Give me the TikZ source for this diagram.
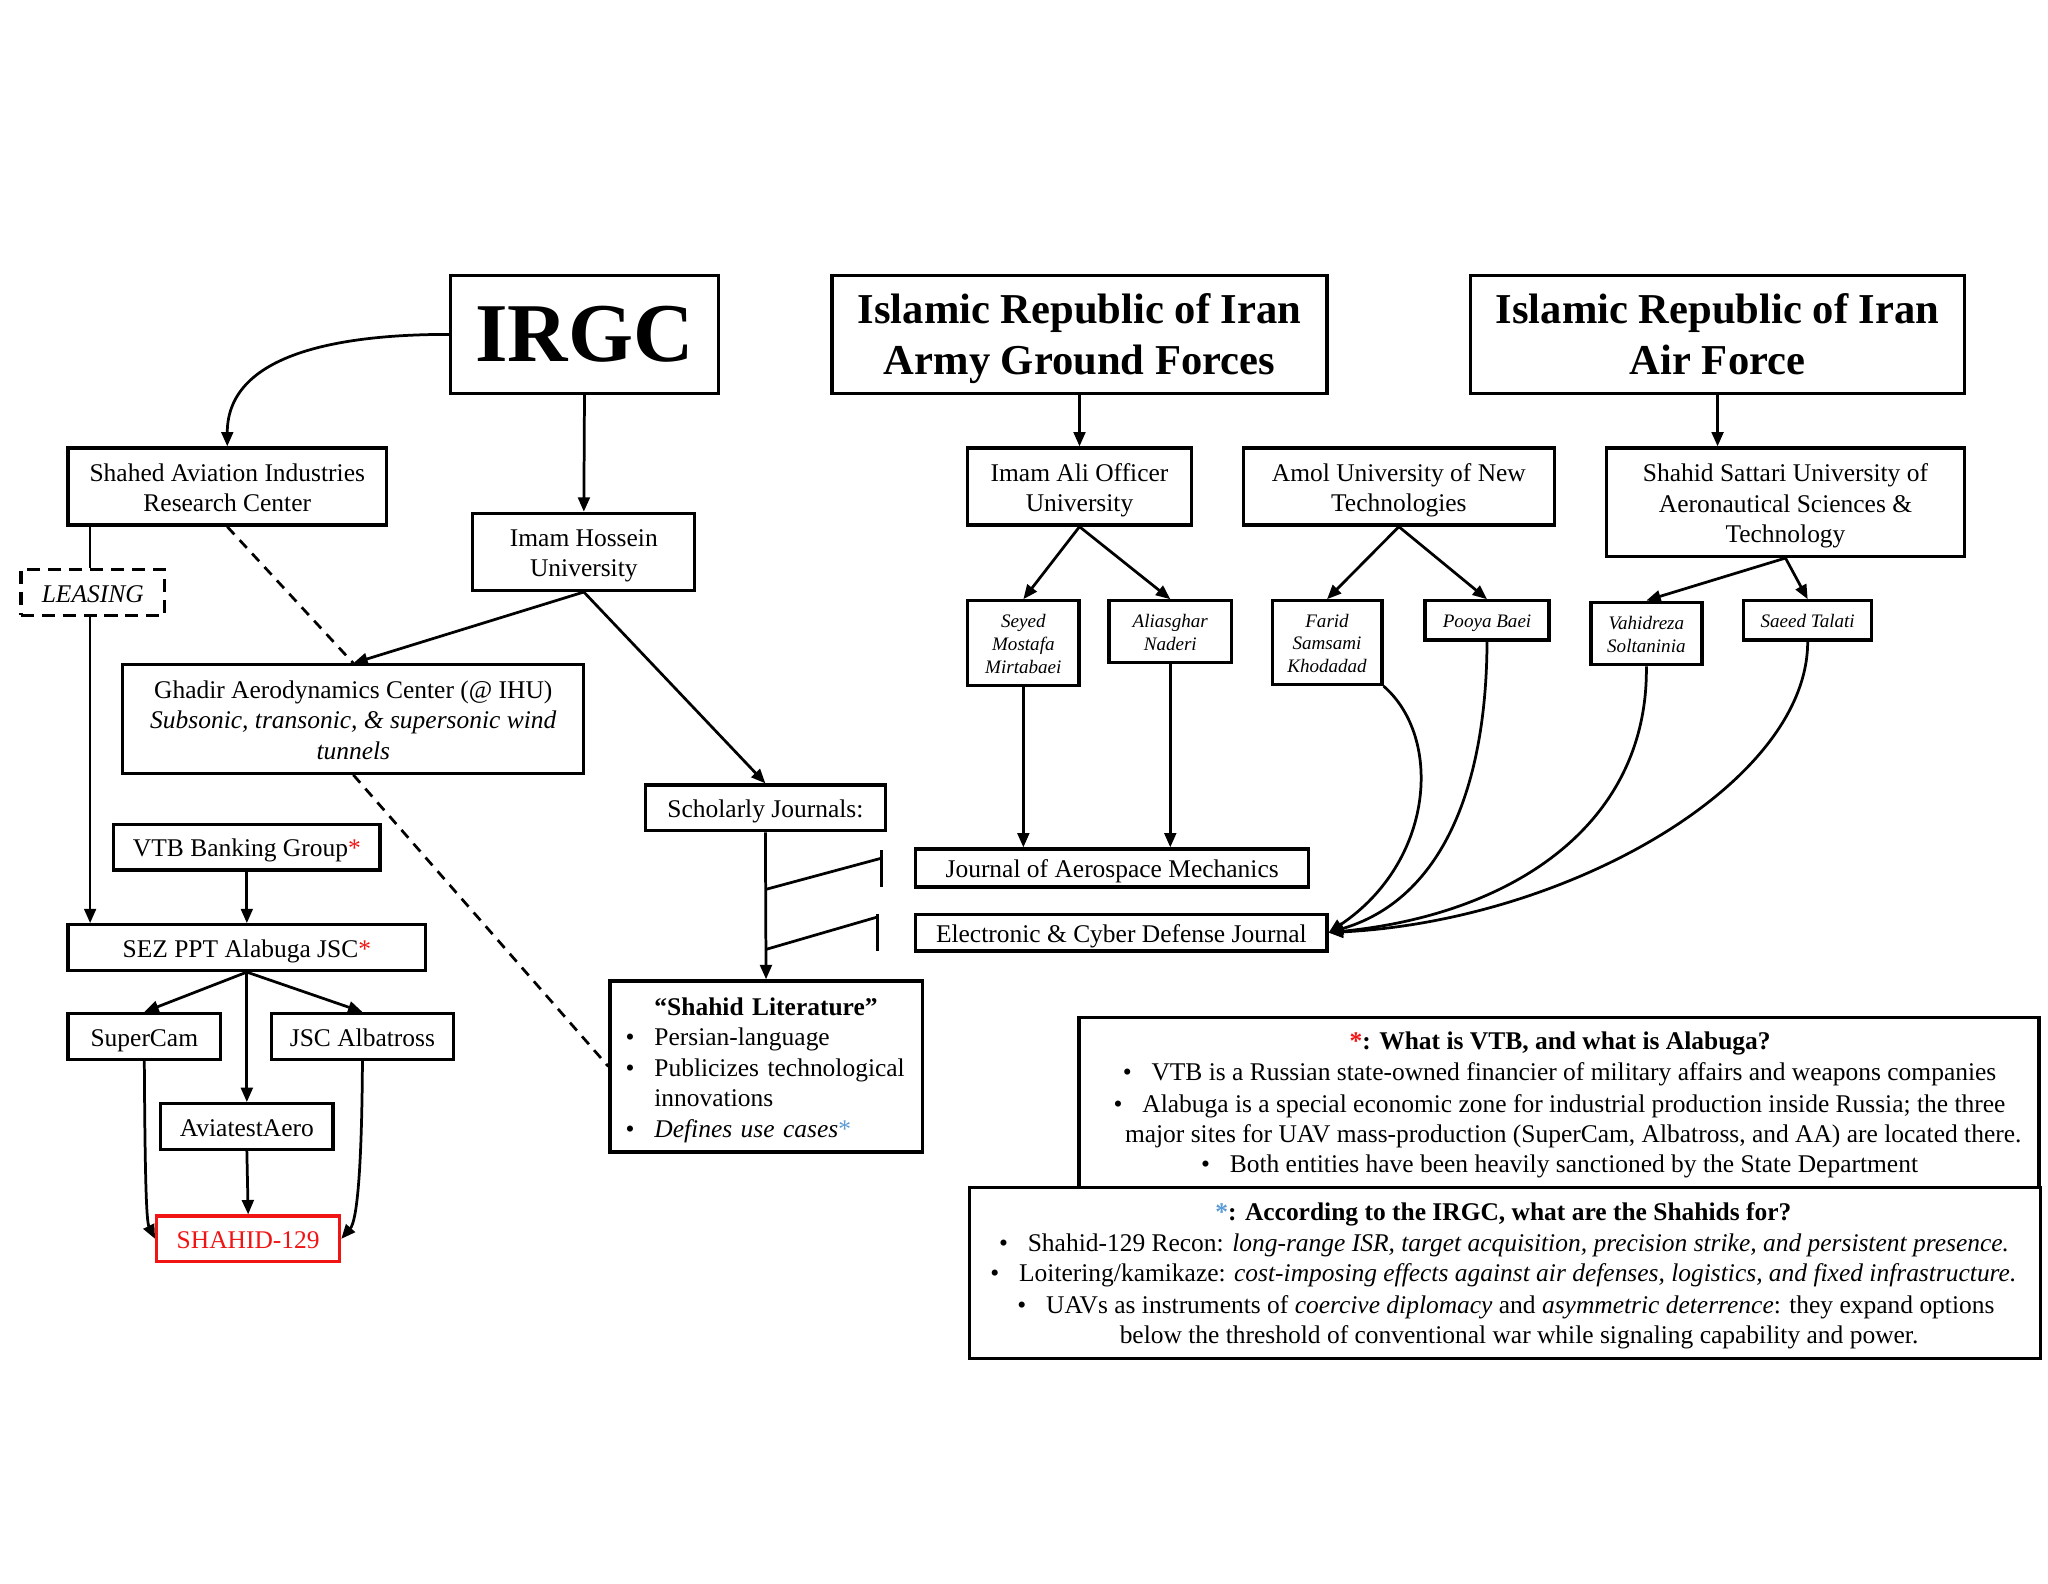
\documentclass[tikz,border=0pt]{standalone}
\usepackage{fontspec}
\setmainfont{Liberation Serif}
\usetikzlibrary{arrows.meta}
\definecolor{myred}{RGB}{240,20,20}
\definecolor{myblue}{RGB}{91,155,213}
\newcommand\mybox[7]{\node[#1, minimum width={(#4-#2)*0.5pt}, minimum height={(#5-#3)*0.5pt}] (#6) at ({(#2+#4)/2},{(#3+#5)/2}) {#7};}
\newcommand\mystrut{\vrule width0pt height1.0em depth0.23em\relax}
\newcommand\mytop{\vrule width0pt height1.0em\relax}
\newcommand\mytophead{\vrule width0pt height0.93em\relax}
\tikzset{
  basefont/.style={font=\fontsize{9.75pt}{11.7pt}\selectfont},
  plainbox/.style={draw, line width=1.25pt, inner sep=0pt, align=center, basefont},
  box/.style={plainbox, execute at begin node=\mystrut, execute at end node=\mystrut},
  smallbox/.style={box, font=\fontsize{7.3pt}{8.75pt}\selectfont\itshape},
  headbox/.style={box, font=\fontsize{16.3pt}{19.5pt}\selectfont\bfseries},
  txt/.style={basefont, inner sep=0pt, text height=8.5pt, text depth=2pt},
  ln/.style={line width=1.05pt},
  conn/.style={ln, -{Triangle[length=5.5pt,width=4.5pt]}},
  dashln/.style={ln, dash pattern=on 4pt off 3pt},
}
\begin{document}
\begin{tikzpicture}[x=0.5pt,y=-0.5pt]
\useasboundingbox (0,0) rectangle (1568,1212);
% left part
\mybox{plainbox, font=\fontsize{32pt}{38pt}\selectfont\bfseries}{345}{211}{550}{301}{irgc}{\raisebox{-3pt}{IRGC}}
\mybox{headbox}{637}{211}{1016}{301}{army}{\mytophead Islamic Republic of Iran\\Army Ground Forces}
\mybox{headbox}{1126}{211}{1504}{301}{airforce}{\mytophead Islamic Republic of Iran\\Air Force}
\mybox{box}{52}{343}{296}{402}{shahed}{\mytop Shahed Aviation Industries\\Research Center}
\mybox{box}{362}{393}{532}{452}{ih}{\mytop Imam Hossein\\University}
\mybox{box, dash pattern=on 5pt off 3pt, font=\fontsize{9.75pt}{11.7pt}\selectfont\itshape}{16}{436}{126}{471}{leasing}{LEASING}
\mybox{box}{94}{509}{447}{592}{ghadir}{\mytop Ghadir Aerodynamics Center (@ IHU)\\\textit{Subsonic, transonic, \& supersonic wind}\\\textit{tunnels}}
\mybox{box}{494}{601}{678}{636}{scholarly}{Scholarly Journals:}
\mybox{box}{87}{631}{291}{666}{vtb}{VTB Banking Group\textcolor{myred}{*}}
\mybox{box}{52}{708}{326}{743}{sez}{SEZ PPT Alabuga JSC\textcolor{myred}{*}}
\mybox{box}{52}{776}{169}{811}{supercam}{SuperCam}
\mybox{box}{208}{776}{347}{811}{albatross}{JSC Albatross}
\mybox{box}{123}{845}{255}{880}{aviatest}{AviatestAero}
\mybox{box, draw=myred, text=myred}{120}{931}{260}{966}{shahid}{SHAHID-129}
\mybox{box, align=left, text width=107.5pt}{467}{751}{706}{882}{lit}{\makebox[107.5pt][c]{\bfseries “Shahid Literature”}\\
\textbullet\hspace{7.6pt}Persian-language\\
\textbullet\hspace{7.6pt}Publicizes technological\\
\hspace*{11pt}innovations\\
\textbullet\hspace{7.6pt}\textit{Defines use cases}\textcolor{myblue}{*}}
% right part
\mybox{box}{741}{343}{912}{402}{imamali}{\mytop Imam Ali Officer\\University}
\mybox{box}{952}{343}{1190}{402}{amol}{\mytop Amol University of New\\Technologies}
\mybox{box}{1230}{343}{1504}{426}{sattari}{\mytop Shahid Sattari University of\\Aeronautical Sciences \&\\Technology}
\mybox{smallbox}{741}{460}{826}{525}{seyed}{\mytop Seyed\\Mostafa\\Mirtabaei}
\mybox{smallbox}{849}{460}{943}{507}{aliasghar}{\mytop Aliasghar\\Naderi}
\mybox{smallbox}{974}{460}{1058}{524}{farid}{\mytop Farid\\Samsami\\Khodadad}
\mybox{smallbox}{1091}{460}{1186}{490}{pooya}{Pooya Baei}
\mybox{smallbox}{1218}{461}{1303}{509}{vahid}{\mytop Vahidreza\\Soltaninia}
\mybox{smallbox}{1335}{460}{1433}{490}{saeed}{Saeed Talati}
\mybox{box}{701}{650}{1002}{679}{jam}{Journal of Aerospace Mechanics}
\mybox{box}{701}{700}{1016}{728}{ecdj}{Electronic \& Cyber Defense Journal}
% notes
\mybox{plainbox}{826}{779}{1561}{909}{vtbnote}{}
\mybox{plainbox}{742}{909}{1562}{1040}{shahidnote}{}
\node[txt, font=\fontsize{9.75pt}{11.7pt}\selectfont\bfseries] (vn0) at (1194.5,797) {\textcolor{myred}{*}: What is VTB, and what is Alabuga?};
\node[txt] (vn1) at (1194,821) {\textbullet\hspace{7.6pt}VTB is a Russian state-owned financier of military affairs and weapons companies};
\node[txt] (vn2) at (1194,845) {\textbullet\hspace{7.6pt}Alabuga is a special economic zone for industrial production inside Russia; the three};
\node[txt] (vn3) at (1204.5,868) {major sites for UAV mass-production (SuperCam, Albatross, and AA) are located there.};
\node[txt] (vn4) at (1194,891) {\textbullet\hspace{7.6pt}Both entities have been heavily sanctioned by the State Department};
\node[txt, font=\fontsize{9.75pt}{11.7pt}\selectfont\bfseries] (sn0) at (1151,928) {\textcolor{myblue}{*}: According to the IRGC, what are the Shahids for?};
\node[txt] (sn1) at (1151.5,952) {\textbullet\hspace{7.6pt}Shahid-129 Recon: \textit{long-range ISR, target acquisition, precision strike, and persistent presence.}};
\node[txt] (sn2) at (1151,975) {\textbullet\hspace{7.6pt}Loitering/kamikaze: \textit{cost-imposing effects against air defenses, logistics, and fixed infrastructure.}};
\node[txt] (sn3) at (1153,999) {\textbullet\hspace{7.6pt}UAVs as instruments of \textit{coercive diplomacy} and \textit{asymmetric deterrence}: they expand options};
\node[txt] (sn4) at (1163,1022) {below the threshold of conventional war while signaling capability and power.};
% connectors left
\draw[conn] (irgc.west) to[out=180,in=90] (shahed.north);
\draw[conn] (irgc.south) -- (ih.north);
\coordinate (lsx) at (69,0);
\draw[ln] (lsx |- shahed.south) -- (lsx |- leasing.north);
\draw[conn] (lsx |- leasing.south) -- (lsx |- sez.north);
\draw[dashln] (shahed.south) -- (ghadir.north);
\draw[conn] (ih.south) -- (ghadir.north);
\draw[dashln] (ghadir.south) -- (lit.west);
\draw[conn] (ih.south) -- (scholarly.north);
\draw[conn] (scholarly.south) -- (lit.north);
\coordinate (b1s) at (586,681); \coordinate (b1e) at (675,657);
\coordinate (b1t) at (675,651); \coordinate (b1b) at (675,679);
\coordinate (b2s) at (586,727); \coordinate (b2e) at (672,702);
\coordinate (b2t) at (672,700); \coordinate (b2b) at (672,728);
\draw[ln] (b1s) -- (b1e); \draw[ln] (b1t) -- (b1b);
\draw[ln] (b2s) -- (b2e); \draw[ln] (b2t) -- (b2b);
\draw[conn] (vtb.south) -- (sez.north);
\draw[conn] (sez.south) -- (supercam.north);
\draw[conn] (sez.south) -- (albatross.north);
\draw[conn] (sez.south) -- (aviatest.north);
\draw[conn] (aviatest.south) -- (shahid.north);
\draw[conn] (supercam.south) .. controls (111,900) and (112,935) .. (shahid.west);
\draw[conn] (albatross.south) .. controls (277,900) and (273,935) .. (shahid.east);
% connectors right
\draw[conn] (army.south) -- (imamali.north);
\draw[conn] (airforce.south) -- (airforce.south |- sattari.north);
\draw[conn] (imamali.south) -- (seyed.north);
\draw[conn] (imamali.south) -- (aliasghar.north);
\draw[conn] (amol.south) -- (farid.north);
\draw[conn] (amol.south) -- (pooya.north);
\draw[conn] (sattari.south) -- (vahid.north);
\draw[conn] (sattari.south) -- (saeed.north);
\draw[conn] (seyed.south) -- (seyed.south |- jam.north);
\draw[conn] (aliasghar.south) -- (aliasghar.south |- jam.north);
\draw[conn] (farid.south east) .. controls (1105,565) and (1098,660) .. (ecdj.east);
\draw[conn] (pooya.south) .. controls (1138,610) and (1100,690) .. (ecdj.east);
\draw[conn] (vahid.south) .. controls (1262,630) and (1160,700) .. (ecdj.east);
\draw[conn] (saeed.south) .. controls (1384,600) and (1200,705) .. (ecdj.east);
\end{tikzpicture}
\end{document}
